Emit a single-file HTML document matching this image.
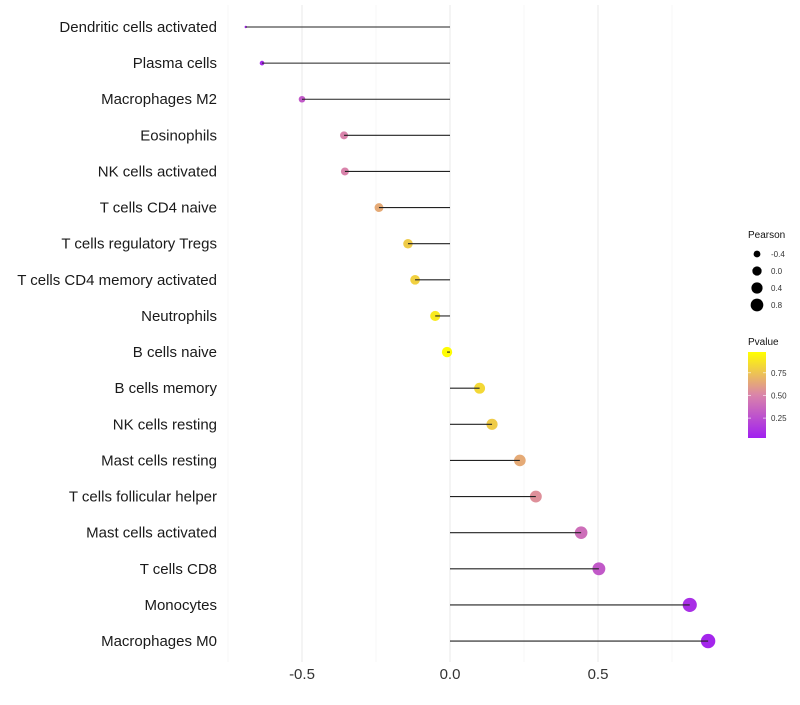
<!DOCTYPE html>
<html><head><meta charset="utf-8"><style>
body{margin:0;background:#fff;font-family:"Liberation Sans",sans-serif}
</style></head><body>
<svg id="c" width="800" height="700" xmlns="http://www.w3.org/2000/svg"></svg>
<script>
const categories=["Dendritic cells activated","Plasma cells","Macrophages M2","Eosinophils","NK cells activated","T cells CD4 naive","T cells regulatory  Tregs ","T cells CD4 memory activated","Neutrophils","B cells naive","B cells memory","NK cells resting","Mast cells resting","T cells follicular helper","Mast cells activated","T cells CD8","Monocytes","Macrophages M0"];
const pearson=[-0.69,-0.635,-0.5,-0.358,-0.355,-0.24,-0.142,-0.118,-0.05,-0.01,0.10,0.142,0.236,0.29,0.443,0.503,0.81,0.872];
const pvalue=[0.05,0.08,0.3,0.5,0.5,0.65,0.78,0.8,0.9,0.97,0.83,0.78,0.65,0.55,0.4,0.3,0.1,0.06];
const xTicks=[-0.5,0,0.5];
const xTickLabels=["-0.5","0.0","0.5"];
const sizeBreaks=[-0.4,0.0,0.4,0.8];
const pBreaks=[0.25,0.5,0.75];
const NS="http://www.w3.org/2000/svg";
const svg=document.getElementById('c');
const X=v=>450+v*296;
const Y=i=>27+i*36.12;
const smin=-0.69,smax=0.872;
const R=v=>1.2*(1+5*Math.sqrt(Math.max(0,(v-smin)/(smax-smin))));
const pmin=0.03,pmax=0.98;
function col(p){let t=Math.max(0,Math.min(1,(p-pmin)/(pmax-pmin)));
 const a=[160,32,240],m=[218,132,170],b=[255,255,0];let c;
 if(t<0.5){const u=t/0.5;c=a.map((x,k)=>Math.round(x+(m[k]-x)*u));}else{const u=(t-0.5)/0.5;c=m.map((x,k)=>Math.round(x+(b[k]-x)*u));}
 return `rgb(${c})`;}
function el(t,a,p){const e=document.createElementNS(NS,t);for(const k in a)e.setAttribute(k,a[k]);(p||svg).appendChild(e);return e;}
[-0.75,-0.25,0.25,0.75].forEach(v=>{const g=el('line',{x1:X(v),x2:X(v),y1:5,y2:662,stroke:'#f2f2f2','stroke-width':0.6});

});
xTicks.forEach((v,i)=>{const g=el('line',{x1:X(v),x2:X(v),y1:5,y2:662,stroke:'#ebebeb','stroke-width':1.1});


const t=el('text',{x:X(v),y:679,'text-anchor':'middle','font-size':15,fill:'#333'});t.textContent=xTickLabels[i];

});
categories.forEach((c,i)=>{
 const t=el('text',{x:217,y:Y(i)+5,'text-anchor':'end','font-size':15,fill:'#1a1a1a'});t.textContent=c;
 
 
 const d=el('circle',{cx:X(pearson[i]),cy:Y(i),r:R(pearson[i]),fill:col(pvalue[i])});
 
 
 const l=el('line',{x1:X(0),x2:X(pearson[i]),y1:Y(i),y2:Y(i),stroke:'#222','stroke-width':1.1});
 
 
});
let lt=el('text',{x:748,y:238,'font-size':10,fill:'#111'});lt.textContent='Pearson';


sizeBreaks.forEach((v,i)=>{const y=254+i*17;
 const c=el('circle',{cx:757,cy:y,r:R(v)*0.9,fill:'#000'});
 
 
 const t=el('text',{x:771,y:y+3,'font-size':8,fill:'#333'});t.textContent=v.toFixed(1);
 
 });
let pt=el('text',{x:748,y:345,'font-size':10,fill:'#111'});pt.textContent='Pvalue';


const defs=el('defs',{});const gr=el('linearGradient',{id:'g',x1:0,y1:1,x2:0,y2:0},defs);
for(let k=0;k<=10;k++){el('stop',{offset:k/10,'stop-color':col(pmin+(pmax-pmin)*k/10)},gr);}
const bar=el('rect',{x:748,y:352,width:18,height:86,fill:'url(#g)'});


pBreaks.forEach(v=>{const y=438-(v-pmin)/(pmax-pmin)*86;
 el('line',{x1:748,x2:751,y1:y,y2:y,stroke:'#fff','stroke-width':0.6});el('line',{x1:763,x2:766,y1:y,y2:y,stroke:'#fff','stroke-width':0.6});
 const t=el('text',{x:771,y:y+3,'font-size':8,fill:'#333'});t.textContent=v.toFixed(2);
 
 });
</script>
</body></html>
